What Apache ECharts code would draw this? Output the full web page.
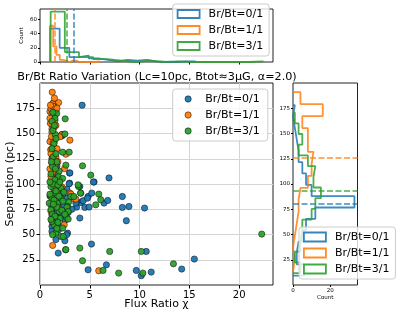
<!DOCTYPE html>
<html><head><meta charset="utf-8">
<script src="https://cdn.jsdelivr.net/npm/echarts@6/dist/echarts.min.js"></script>
<style>html,body{margin:0;padding:0;background:#fff}#c{width:398px;height:315px}</style>
</head><body><div id="c"></div>
<script>
const seriesNames = ['Br/Bt=0/1', 'Br/Bt=1/1', 'Br/Bt=3/1'];
const colors = ['#1f77b4', '#ff7f0e', '#2ca02c'];

// scatter points [flux ratio, separation]
const scatterBlue = [[4.23,178],[2.23,147.7],[2.2,149],[2.97,110.8],[3.0,111],[6.93,106],[5.43,102],[5.37,101.9],[2.97,100.9],[2.93,100.2],[4.0,97.5],[4.83,87.6],[5.2,91],[6.43,81.1],[6.8,83.7],[8.27,87.6],[8.27,76.8],[8.93,77.7],[10.5,76.2],[8.67,63.6],[4.5,76.8],[4.93,77.2],[4.0,66.3],[4.1,81.7],[4.33,83.4],[4.77,86],[3.67,82.7],[3.67,77.1],[3.6,81.1],[2.83,71.8],[2.6,86],[2.77,51.4],[2.5,43.8],[2.67,49.8],[1.83,31.6],[5.17,40.5],[4.83,15.1],[6.67,20],[9.67,14.4],[10.17,9.2],[10.67,33.2],[11.17,12.8],[14.23,15.8],[15.5,25.7],[1.73,106],[1.87,94.3],[2.1,76.2],[1.2,69.5],[1.93,67.9],[1.2,58],[1.87,54.7],[1.2,53],[1.5,62],[1.3,75],[1.6,88],[1.4,97],[1.1,80],[1.9,82],[1.5,84],[2.3,90],[2.4,79],[1.7,72],[1.2,90],[2.5,64],[1.6,45],[1.3,110],[1.7,118],[1.2,125],[1.3,135],[1.1,160],[1.5,173],[1.2,100],[2.0,85],[1.4,78],[2.2,70],[1.8,60],[1.0,88],[1.15,82],[2.7,95],[3.2,75]];
const scatterOrange = [[1.23,190.9],[1.33,180],[1.87,180.6],[1.17,176],[1.43,176.7],[1.0,171.7],[1.6,172],[1.5,170],[1.2,169.4],[1.33,168],[1.1,174.7],[1.27,179.6],[1.3,177],[1.05,178],[1.7,175],[1.27,159.9],[1.6,158],[1.2,154.5],[1.2,151.3],[1.4,156],[2.17,148.7],[2.0,146.7],[3.0,143.4],[1.27,145],[1.1,142.4],[1.43,141.7],[1.0,142],[1.33,141],[1.2,133.5],[1.07,133.8],[2.6,129.5],[1.43,123.6],[1.2,120.6],[1.3,128],[1.6,126],[1.1,130],[1.6,113.7],[2.47,115.3],[1.2,105.5],[1.1,107.4],[1.93,103.2],[1.5,118],[1.3,112],[1.0,115],[1.8,122],[3.0,91],[3.1,90],[3.43,85.4],[3.6,85],[1.4,95],[1.1,88],[1.7,92],[1.2,82],[1.5,79],[1.1,73],[1.6,86],[2.2,97],[1.3,62],[1.27,66.3],[2.43,59.6],[1.27,39.2],[5.9,14.1],[1.8,77],[1.4,100],[1.05,160],[1.5,163],[1.15,147],[1.35,138],[1.7,135],[1.25,125],[1.0,165],[1.45,185]];
const scatterGreen = [[2.53,164.5],[1.67,169.7],[1.5,165],[1.2,162],[2.5,149.5],[1.53,149],[1.3,153],[1.45,158],[2.27,131.5],[2.93,131.5],[1.33,126.9],[1.67,122],[1.27,117.3],[4.27,118],[1.93,112.7],[2.6,118.7],[5.1,108.8],[1.87,107.1],[2.27,105.5],[1.1,97.5],[2.1,95.9],[1.43,91],[1.2,86],[2.1,86],[3.87,97.5],[3.83,99.2],[4.1,91],[4.07,91],[0.93,81],[1.77,81],[3.1,87.6],[3.4,87.6],[2.87,82],[2.77,77.7],[5.9,90],[6.1,84.4],[5.6,79.4],[1.1,74.5],[1.93,72.8],[2.7,76.8],[2.67,66.9],[2.83,65.3],[2.83,72.8],[1.43,59.6],[1.6,51.4],[2.27,56.4],[1.27,49.8],[2.1,48.1],[2.33,48],[2.57,34.9],[2.6,35],[4.0,36.6],[4.27,24],[6.33,14.4],[7.9,11.8],[7.0,33.2],[10.17,33.2],[10.33,11.8],[13.4,21],[22.27,50.4],[1.4,140],[1.2,135],[1.6,130],[1.1,110],[1.5,104],[1.3,100],[1.8,99],[1.6,93],[1.0,90],[2.4,92],[1.4,84],[2.3,83],[1.7,77],[1.25,70],[2.0,66],[1.5,68],[1.2,63],[1.8,62],[2.2,74],[1.35,80],[1.9,88],[1.15,122],[1.55,115],[1.0,102],[2.0,102],[1.7,56],[1.1,65],[2.5,70],[1.6,145],[1.3,171]];

// marginal histograms: bin range [lo, hi] and counts (15 bins each)
const histXRange = [[1.0, 15.6], [1.0, 5.93], [1.07, 22.4]];
const histXBlue = [47, 20, 7, 9, 5, 3, 1, 3, 2, 3, 1, 0, 0, 1, 1];
const histXOrange = [51, 22, 10, 3, 2, 0, 2, 2, 0, 0, 0, 0, 0, 0, 1];
const histXGreen = [71, 14, 7, 4, 2, 0, 2, 0, 1, 0, 0, 0, 0, 0, 1];
const histYRange = [[9.2, 178], [13.4, 190.9], [11.8, 170.7]];
const histYBlue = [6, 2, 3, 5, 7, 12, 33, 10, 7, 5, 3, 2, 1, 0, 1];
const histYOrange = [1, 0, 1, 2, 3, 3, 4, 8, 10, 11, 8, 8, 5, 16, 4];
const histYGreen = [4, 1, 4, 5, 5, 10, 12, 15, 11, 12, 8, 3, 5, 3, 1];
const meanX = [3.4, 1.47, 2.7];
const meanY = [80, 126, 93.6];

const xTicks = [0, 5, 10, 15, 20];
const yTicks = [25, 50, 75, 100, 125, 150, 175];
const topCountTicks = [0, 20, 40, 60];
const rightCountTicks = [0, 20];

const FONT = 'DejaVu Sans';
const scatterData = [scatterBlue, scatterOrange, scatterGreen];
const histX = [histXBlue, histXOrange, histXGreen];
const histY = [histYBlue, histYOrange, histYGreen];

function edges(range, n) {
  const e = [];
  for (let i = 0; i <= n; i++) e.push(range[0] + (range[1] - range[0]) * i / n);
  return e;
}
function stepPoints(counts, range, horizontal) {
  const e = edges(range, counts.length);
  const pts = [[e[0], 0]];
  counts.forEach((c, i) => { pts.push([e[i], c]); pts.push([e[i + 1], c]); });
  pts.push([e[counts.length], 0]);
  return horizontal ? pts.map(p => [p[1], p[0]]) : pts;
}

const axisLineStyle = { color: '#000', width: 1 };
const series = [];
scatterData.forEach((d, i) => series.push({
  name: seriesNames[i], type: 'scatter', xAxisIndex: 0, yAxisIndex: 0, data: d,
  symbolSize: 6.3, itemStyle: { color: colors[i], borderColor: '#000', borderWidth: 0.5, opacity: 0.95 }, z: 3
}));
histX.forEach((h, i) => series.push({
  name: seriesNames[i], type: 'line', xAxisIndex: 1, yAxisIndex: 1, data: stepPoints(h, histXRange[i], false),
  symbol: 'none', lineStyle: { color: colors[i], width: 1.8, opacity: 0.85 }, itemStyle: { color: colors[i] },
  markLine: { silent: true, symbol: ['none', 'none'], label: { show: false },
    lineStyle: { color: colors[i], type: [6, 2.5], width: 1.5, opacity: 0.85 }, data: [{ xAxis: meanX[i] }] }
}));
histY.forEach((h, i) => series.push({
  name: seriesNames[i], type: 'line', xAxisIndex: 2, yAxisIndex: 2, data: stepPoints(h, histYRange[i], true),
  symbol: 'none', lineStyle: { color: colors[i], width: 1.8, opacity: 0.85 }, itemStyle: { color: colors[i] },
  markLine: { silent: true, symbol: ['none', 'none'], label: { show: false },
    lineStyle: { color: colors[i], type: [6, 2.5], width: 1.5, opacity: 0.85 }, data: [{ yAxis: meanY[i] }] }
}));

const legendBase = {
  orient: 'vertical', itemGap: 5, padding: [4.5, 6, 4.5, 4], itemWidth: 22,
  textStyle: { fontSize: 11, fontFamily: FONT, color: '#000', padding: [0, 0, 0, 4] },
  backgroundColor: 'rgba(255,255,255,0.8)', borderColor: '#cccccc', borderWidth: 1, borderRadius: 3,
  selectedMode: false
};
const circleItems = seriesNames.map((n, i) => ({ name: n, icon: 'circle',
  itemStyle: { color: colors[i], borderColor: '#000', borderWidth: 0.5, opacity: 0.95 } }));
const rectItems = seriesNames.map((n, i) => ({ name: n, icon: 'rect',
  itemStyle: { color: 'rgba(255,255,255,0)', borderColor: colors[i], borderWidth: 1.8, opacity: 0.9 } }));
const gridBase = { show: true, borderColor: '#222', borderWidth: 1, backgroundColor: 'transparent', containLabel: false, outerBoundsMode: 'none' };
const nameStyle = (s) => ({ fontSize: s, fontFamily: FONT, color: '#000' });

const option = {
  animation: false,
  backgroundColor: '#fff',
  title: { text: 'Br/Bt Ratio Variation (Lc=10pc, Btot≈3μG, α=2.0)', left: 152, textAlign: 'center', top: 67,
    textStyle: { fontSize: 11.2, fontWeight: 'normal', fontFamily: FONT, color: '#000' } },
  grid: [
    Object.assign({ left: 40, top: 83, width: 233, height: 202 }, gridBase),
    Object.assign({ left: 40, top: 9, width: 233, height: 53 }, gridBase),
    Object.assign({ left: 293, top: 83, width: 64.5, height: 202 }, gridBase)
  ],
  xAxis: [
    { type: 'value', gridIndex: 0, min: 0, max: 23.4, interval: 5,
      axisLine: { show: false }, axisTick: { length: 3.5, lineStyle: axisLineStyle, customValues: xTicks },
      axisLabel: { customValues: xTicks, fontSize: 10, fontFamily: FONT, color: '#000', margin: 5 },
      splitLine: { show: true, lineStyle: { color: '#d4d4d4', width: 1 } },
      name: 'Flux Ratio χ', nameLocation: 'middle', nameGap: 14, nameMoveOverlap: false, nameTextStyle: nameStyle(11) },
    { type: 'value', gridIndex: 1, min: 0, max: 23.4, interval: 5,
      axisLine: { show: false }, axisTick: { length: 2.5, lineStyle: axisLineStyle, customValues: xTicks },
      axisLabel: { show: false }, splitLine: { show: false } },
    { type: 'value', gridIndex: 2, min: 0, max: 34.65, interval: 20,
      axisLine: { show: false }, axisTick: { length: 2, lineStyle: axisLineStyle, customValues: rightCountTicks },
      axisLabel: { customValues: rightCountTicks, fontSize: 5.5, fontFamily: FONT, color: '#000', margin: 3 },
      splitLine: { show: false },
      name: 'Count', nameLocation: 'middle', nameGap: 10, nameMoveOverlap: false, nameTextStyle: nameStyle(5.5) }
  ],
  yAxis: [
    { type: 'value', gridIndex: 0, min: 0, max: 200, interval: 25,
      axisLine: { show: false }, axisTick: { length: 3.5, lineStyle: axisLineStyle, customValues: yTicks },
      axisLabel: { customValues: yTicks, fontSize: 10, fontFamily: FONT, color: '#000', margin: 5 },
      splitLine: { show: true, lineStyle: { color: '#d4d4d4', width: 1 } },
      name: 'Separation (pc)', nameLocation: 'middle', nameGap: 24, nameMoveOverlap: false, nameTextStyle: nameStyle(11) },
    { type: 'value', gridIndex: 1, min: 0, max: 74.6, interval: 20,
      axisLine: { show: false }, axisTick: { length: 2, lineStyle: axisLineStyle, customValues: topCountTicks },
      axisLabel: { customValues: topCountTicks, fontSize: 5.5, fontFamily: FONT, color: '#000', margin: 3 },
      splitLine: { show: false },
      name: 'Count', nameLocation: 'middle', nameGap: 15, nameMoveOverlap: false, nameTextStyle: nameStyle(5.5) },
    { type: 'value', gridIndex: 2, min: 0, max: 200, interval: 25,
      axisLine: { show: false }, axisTick: { length: 2, lineStyle: axisLineStyle, customValues: yTicks },
      axisLabel: { customValues: yTicks, fontSize: 5.5, fontFamily: FONT, color: '#000', margin: 3 },
      splitLine: { show: false } }
  ],
  legend: [
    Object.assign({}, legendBase, { left: 172.7, top: 89, itemWidth: 6.3, itemHeight: 6.3, padding: [4.5, 8, 4.5, 12],
      textStyle: { fontSize: 11, fontFamily: FONT, color: '#000', padding: [0, 0, 0, 9] }, data: circleItems }),
    Object.assign({}, legendBase, { left: 172.7, top: 4, itemHeight: 8, data: rectItems }),
    Object.assign({}, legendBase, { left: 299, top: 227, itemHeight: 9, data: rectItems })
  ],
  series: series
};
const chart = echarts.init(document.getElementById('c'), null, { renderer: 'canvas' });
chart.setOption(option);
</script></body></html>
